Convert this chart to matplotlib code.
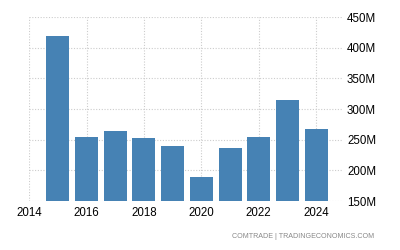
import matplotlib
matplotlib.use("Agg")
import matplotlib.pyplot as plt
from matplotlib.ticker import FuncFormatter

years = [2015, 2016, 2017, 2018, 2019, 2020, 2021, 2022, 2023, 2024]
values_m = [419, 254, 264, 252, 239, 189, 236, 254, 314, 268]
yticks = [150, 200, 250, 300, 350, 400, 450]
xticks = [2014, 2016, 2018, 2020, 2022, 2024]

plt.rcParams['font.family'] = ['Liberation Sans', 'DejaVu Sans']
fig = plt.figure(figsize=(4, 2.5), dpi=100)
ax = fig.add_axes([0.073, 0.196, 0.784, 0.736])
ax.bar(years, values_m, width=0.8, color='#4682B4', zorder=2)
ax.set_xlim(2014, 2024.93)
ax.set_ylim(150, 450)
ax.set_yticks(yticks)
ax.set_xticks(xticks)
ax.yaxis.tick_right()
ax.yaxis.set_major_formatter(FuncFormatter(lambda v, p: f"{int(v)}M"))
ax.grid(True, color='#cccccc', linestyle=(0, (1, 1.5)), linewidth=0.8, zorder=0)
for s in ax.spines.values():
    s.set_visible(False)
ax.tick_params(axis='both', length=0, labelsize=8.3, colors='#000000')
ax.tick_params(axis='y', pad=3)
ax.tick_params(axis='x', pad=4)
fig.text(0.935, 0.04, "COMTRADE | TRADINGECONOMICS.COM", ha='right', va='bottom',
         fontsize=5.1, color='#888888')
fig.savefig("out.png", dpi=100)
